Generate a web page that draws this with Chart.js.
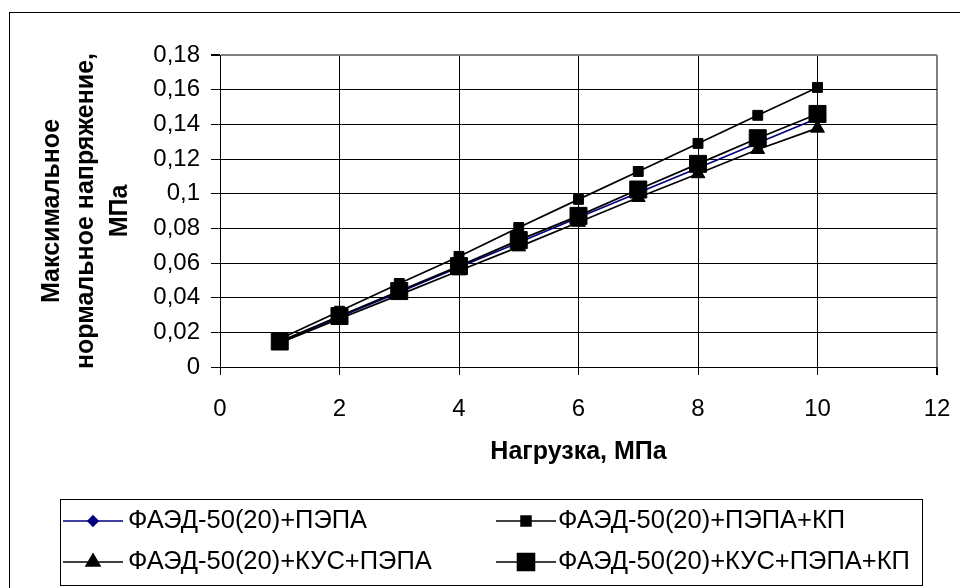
<!DOCTYPE html>
<html>
<head>
<meta charset="utf-8">
<title>Нагрузка и напряжение</title>
<script src="https://cdn.jsdelivr.net/npm/chart.js@4.4.0/dist/chart.umd.min.js"></script>
<style>
  body { margin: 0; background: #fff; }
  #wrap { width: 960px; height: 588px; }
</style>
</head>
<body>
<div id="wrap"><canvas id="canvas1" width="960" height="588"></canvas></div>
<script>
// Data
let loads = [1, 2, 3, 4, 5, 6, 7, 8, 9, 10];
let seriesNames = [
    "ФАЭД-50(20)+ПЭПА",
    "ФАЭД-50(20)+ПЭПА+КП",
    "ФАЭД-50(20)+КУС+ПЭПА",
    "ФАЭД-50(20)+КУС+ПЭПА+КП"
];
let pepa = [0.0145, 0.0288, 0.0432, 0.0575, 0.0718, 0.0862, 0.1005, 0.1148, 0.1292, 0.1435];
let pepaKp = [0.0161, 0.0322, 0.0482, 0.0638, 0.0805, 0.0967, 0.1128, 0.1290, 0.1452, 0.1613];
let kusPepa = [0.0139, 0.0278, 0.0416, 0.0555, 0.0693, 0.0835, 0.0978, 0.1115, 0.1255, 0.1378];
let kusPepaKp = [0.0147, 0.0294, 0.0438, 0.0582, 0.0732, 0.0872, 0.1024, 0.1172, 0.1320, 0.1460];
let xTicks = [0, 2, 4, 6, 8, 10, 12];
let yTicks = [0, 0.02, 0.04, 0.06, 0.08, 0.1, 0.12, 0.14, 0.16, 0.18];

let fontFamily = "'Liberation Sans', Arial, sans-serif";

function points(values) {
    return loads.map((x, i) => ({ x: x, y: values[i] }));
}

// Styles per series (same order as seriesNames)
let styles = [
    { color: "#000080", pointStyle: "rectRot", radius: 5, order: 4 },
    { color: "#000000", pointStyle: "rect", radius: 7, order: 3 },
    { color: "#000000", pointStyle: "triangle", radius: 8, order: 2 },
    { color: "#000000", pointStyle: "rect", radius: 12, order: 1 }
];
let allValues = [pepa, pepaKp, kusPepa, kusPepaKp];

// Outer frame
let framePlugin = {
    id: "frame",
    beforeDraw(chart) {
        let ctx = chart.ctx;
        ctx.save();
        ctx.fillStyle = "#fff";
        ctx.fillRect(0, 0, chart.width, chart.height);
        ctx.strokeStyle = "#000";
        ctx.lineWidth = 1;
        ctx.strokeRect(9.5, 12.5, 980, 600);
        ctx.restore();
    }
};

// Legend: 2x2 box below the chart
function marker(ctx, st, x, y) {
    ctx.fillStyle = st.color;
    ctx.strokeStyle = st.color;
    if (Chart.helpers && Chart.helpers.drawPoint) {
        Chart.helpers.drawPoint(ctx, { pointStyle: st.pointStyle, radius: st.radius, rotation: 0, borderWidth: 1 }, x, y);
    }
}

let legendPlugin = {
    id: "boxLegend",
    afterDraw(chart) {
        let ctx = chart.ctx;
        let cols = [{ mid: 93, text: 128 }, { mid: 526, text: 558 }];
        let rows = [521, 562];
        ctx.save();
        ctx.strokeStyle = "#000";
        ctx.lineWidth = 1;
        ctx.strokeRect(60.5, 499.5, 862, 86);
        ctx.font = "25.5px " + fontFamily;
        ctx.textBaseline = "middle";
        ctx.textAlign = "left";
        let slots = [[0, 0], [0, 1], [1, 0], [1, 1]];
        for (let i = 0; i < 4; i++) {
            let c = cols[slots[i][1]];
            let y = rows[slots[i][0]];
            let st = styles[i];
            ctx.strokeStyle = st.color;
            ctx.lineWidth = 1.6;
            ctx.beginPath();
            ctx.moveTo(c.mid - 30, y);
            ctx.lineTo(c.mid + 30, y);
            ctx.stroke();
            marker(ctx, st, c.mid, y);
            ctx.fillStyle = "#000";
            ctx.fillText(seriesNames[i], c.text, y);
        }
        ctx.restore();
    }
};

let myChart1 = document.querySelector("#canvas1").getContext("2d");

let lineChart = new Chart(myChart1, {
    type: "line",
    data: {
        datasets: allValues.map((vals, i) => ({
            label: seriesNames[i],
            data: points(vals),
            borderColor: styles[i].color,
            backgroundColor: styles[i].color,
            borderWidth: 1.7,
            pointStyle: styles[i].pointStyle,
            pointRadius: styles[i].radius,
            pointBorderWidth: 1,
            order: styles[i].order,
            tension: 0
        }))
    },
    options: {
        responsive: false,
        animation: false,
        layout: { padding: { left: 0, top: 55, right: 23, bottom: 101 } },
        plugins: {
            legend: { display: false },
            tooltip: { enabled: false }
        },
        scales: {
            x: {
                type: "linear",
                min: 0,
                max: 12,
                afterFit: (scale) => {
                    scale.height = 120;
                    scale.paddingLeft = 0;
                    scale.paddingRight = 0;
                },
                afterBuildTicks: (scale) => { scale.ticks = xTicks.map(v => ({ value: v })); },
                ticks: {
                    color: "#000",
                    padding: 20,
                    font: { family: fontFamily, size: 24 }
                },
                grid: {
                    color: (c) => c.tick && c.tick.value === 12 ? "#808080" : "#000",
                    lineWidth: (c) => c.tick && c.tick.value === 12 ? 2 : 1,
                    tickColor: "#000",
                    tickLength: 8
                },
                border: { color: "#000", width: 1 },
                title: {
                    display: true,
                    text: "Нагрузка, МПа",
                    color: "#000",
                    padding: { top: 0, bottom: 20 },
                    font: { family: fontFamily, size: 25, weight: "bold" }
                }
            },
            y: {
                type: "linear",
                min: 0,
                max: 0.18,
                afterFit: (scale) => { scale.width = 220; },
                afterBuildTicks: (scale) => { scale.ticks = yTicks.map(v => ({ value: v })); },
                ticks: {
                    color: "#000",
                    padding: 11,
                    font: { family: fontFamily, size: 24 },
                    callback: (v) => String(parseFloat(Number(v).toFixed(2))).replace(".", ",")
                },
                grid: {
                    color: (c) => c.tick && Math.abs(c.tick.value - 0.18) < 1e-9 ? "#808080" : "#000",
                    lineWidth: (c) => c.tick && Math.abs(c.tick.value - 0.18) < 1e-9 ? 2 : 1,
                    tickColor: "#000",
                    tickLength: 9
                },
                border: { color: "#000", width: 1 },
                title: {
                    display: true,
                    text: ["Максимальное", "нормальное напряжение,", "МПа"],
                    color: "#000",
                    padding: { top: 35, bottom: 0 },
                    font: { family: fontFamily, size: 25, weight: "bold", lineHeight: 1.36 }
                }
            }
        }
    },
    plugins: [framePlugin, legendPlugin]
});
</script>
</body>
</html>
